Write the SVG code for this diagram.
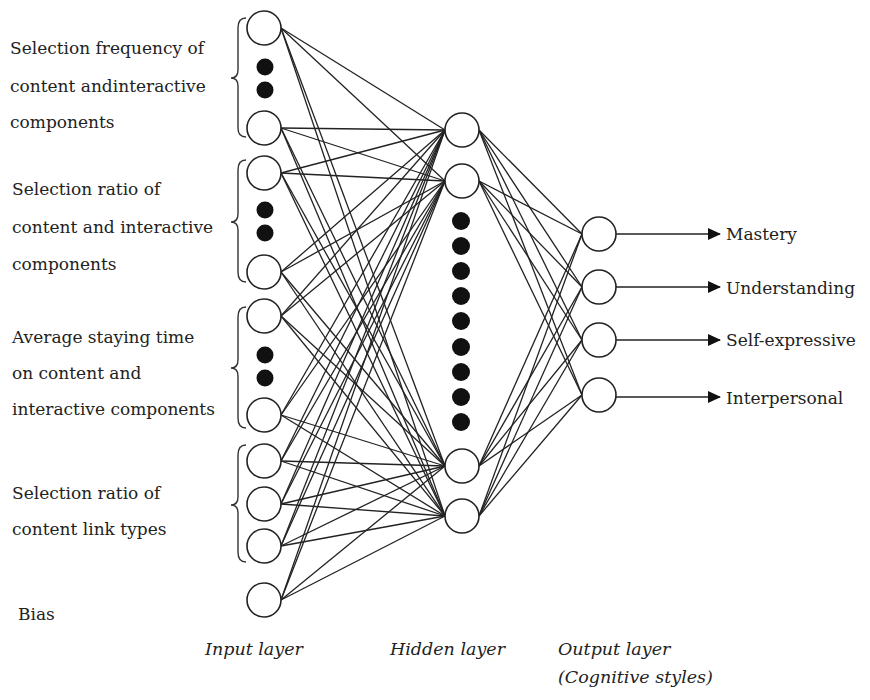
<svg xmlns="http://www.w3.org/2000/svg" width="870" height="700" viewBox="0 0 870 700">
<style>
.node{fill:#fff;stroke:#222;stroke-width:1.6}
.dot{fill:#111}
.lbl{font-family:'DejaVu Serif','Liberation Serif',serif;font-size:17px;fill:#222}
.it{font-family:'DejaVu Serif','Liberation Serif',serif;font-size:17.5px;font-style:italic;fill:#222}
.conn line{stroke:#222;stroke-width:1.3}
.brace{fill:none;stroke:#333;stroke-width:1.4}
.arr{stroke:#222;stroke-width:1.6}
</style>
<defs>
<marker id="ah" markerWidth="13" markerHeight="12" refX="12" refY="6" orient="auto" markerUnits="userSpaceOnUse">
<path d="M0,0 L13,6 L0,12 Z" fill="#111"/>
</marker>
</defs>
<rect width="870" height="700" fill="#fff"/>

<g id="connectors" class="conn">
<line x1="281" y1="28" x2="445" y2="130"/><line x1="281" y1="28" x2="445" y2="181"/><line x1="281" y1="28" x2="445" y2="466"/><line x1="281" y1="28" x2="445" y2="516"/>
<line x1="281" y1="128" x2="445" y2="130"/><line x1="281" y1="128" x2="445" y2="181"/><line x1="281" y1="128" x2="445" y2="466"/><line x1="281" y1="128" x2="445" y2="516"/>
<line x1="281" y1="173" x2="445" y2="130"/><line x1="281" y1="173" x2="445" y2="181"/><line x1="281" y1="173" x2="445" y2="466"/><line x1="281" y1="173" x2="445" y2="516"/>
<line x1="281" y1="272" x2="445" y2="130"/><line x1="281" y1="272" x2="445" y2="181"/><line x1="281" y1="272" x2="445" y2="466"/><line x1="281" y1="272" x2="445" y2="516"/>
<line x1="281" y1="316" x2="445" y2="130"/><line x1="281" y1="316" x2="445" y2="181"/><line x1="281" y1="316" x2="445" y2="466"/><line x1="281" y1="316" x2="445" y2="516"/>
<line x1="281" y1="415" x2="445" y2="130"/><line x1="281" y1="415" x2="445" y2="181"/><line x1="281" y1="415" x2="445" y2="466"/><line x1="281" y1="415" x2="445" y2="516"/>
<line x1="281" y1="461" x2="445" y2="130"/><line x1="281" y1="461" x2="445" y2="181"/><line x1="281" y1="461" x2="445" y2="466"/><line x1="281" y1="461" x2="445" y2="516"/>
<line x1="281" y1="504" x2="445" y2="130"/><line x1="281" y1="504" x2="445" y2="181"/><line x1="281" y1="504" x2="445" y2="466"/><line x1="281" y1="504" x2="445" y2="516"/>
<line x1="281" y1="546" x2="445" y2="130"/><line x1="281" y1="546" x2="445" y2="181"/><line x1="281" y1="546" x2="445" y2="466"/><line x1="281" y1="546" x2="445" y2="516"/>
<line x1="281" y1="600" x2="445" y2="130"/><line x1="281" y1="600" x2="445" y2="181"/><line x1="281" y1="600" x2="445" y2="466"/><line x1="281" y1="600" x2="445" y2="516"/>
<line x1="479" y1="130" x2="582" y2="234"/><line x1="479" y1="130" x2="582" y2="287"/><line x1="479" y1="130" x2="582" y2="340"/><line x1="479" y1="130" x2="582" y2="395"/>
<line x1="479" y1="181" x2="582" y2="234"/><line x1="479" y1="181" x2="582" y2="287"/><line x1="479" y1="181" x2="582" y2="340"/><line x1="479" y1="181" x2="582" y2="395"/>
<line x1="479" y1="466" x2="582" y2="234"/><line x1="479" y1="466" x2="582" y2="287"/><line x1="479" y1="466" x2="582" y2="340"/><line x1="479" y1="466" x2="582" y2="395"/>
<line x1="479" y1="516" x2="582" y2="234"/><line x1="479" y1="516" x2="582" y2="287"/><line x1="479" y1="516" x2="582" y2="340"/><line x1="479" y1="516" x2="582" y2="395"/>
<line class="arr" x1="616" y1="234" x2="720" y2="234" marker-end="url(#ah)"/>
<line class="arr" x1="616" y1="287" x2="720" y2="287" marker-end="url(#ah)"/>
<line class="arr" x1="616" y1="340" x2="720" y2="340" marker-end="url(#ah)"/>
<line class="arr" x1="616" y1="397" x2="720" y2="397" marker-end="url(#ah)"/>
</g>

<g id="input-group-1">
<path class="brace" d="M246,18 Q238,18 238,28 L238,70 Q238,78 231,78 Q238,78 238,86 L238,128 Q238,137 246,137"/>
<text class="lbl" x="10" y="54">Selection frequency of</text>
<text class="lbl" x="10" y="92">content andinteractive</text>
<text class="lbl" x="10" y="128">components</text>
</g>
<g id="input-group-2">
<path class="brace" d="M246,160 Q238,160 238,170 L238,214 Q238,222 231,222 Q238,222 238,230 L238,272 Q238,282 246,282"/>
<text class="lbl" x="12" y="195">Selection ratio of</text>
<text class="lbl" x="12" y="233">content and interactive</text>
<text class="lbl" x="12" y="270">components</text>
</g>
<g id="input-group-3">
<path class="brace" d="M246,307 Q238,307 238,317 L238,360 Q238,368 231,368 Q238,368 238,376 L238,418 Q238,428 246,428"/>
<text class="lbl" x="12" y="343">Average staying time</text>
<text class="lbl" x="12" y="379">on content and</text>
<text class="lbl" x="12" y="415">interactive components</text>
</g>
<g id="input-group-4">
<path class="brace" d="M246,445 Q238,445 238,455 L238,497 Q238,505 231,505 Q238,505 238,513 L238,552 Q238,562 246,562"/>
<text class="lbl" x="12" y="499">Selection ratio of</text>
<text class="lbl" x="12" y="535">content link types</text>
</g>
<g id="bias-label">
<text class="lbl" x="18" y="620">Bias</text>
</g>

<g id="input-nodes">
<circle class="node" cx="264" cy="28" r="17"/>
<circle class="dot" cx="265" cy="67" r="8.5"/>
<circle class="dot" cx="265" cy="90" r="8.5"/>
<circle class="node" cx="264" cy="128" r="17"/>
<circle class="node" cx="264" cy="173" r="17"/>
<circle class="dot" cx="265" cy="210" r="8.5"/>
<circle class="dot" cx="265" cy="233" r="8.5"/>
<circle class="node" cx="264" cy="272" r="17"/>
<circle class="node" cx="264" cy="316" r="17"/>
<circle class="dot" cx="265" cy="355" r="8.5"/>
<circle class="dot" cx="265" cy="378" r="8.5"/>
<circle class="node" cx="264" cy="415" r="17"/>
<circle class="node" cx="264" cy="461" r="17"/>
<circle class="node" cx="264" cy="504" r="17"/>
<circle class="node" cx="264" cy="546" r="17"/>
</g>
<g id="bias-node">
<circle class="node" cx="264" cy="600" r="17"/>
</g>

<g id="hidden-nodes">
<circle class="node" cx="462" cy="130" r="17"/>
<circle class="node" cx="462" cy="181" r="17"/>
<circle class="dot" cx="461" cy="221" r="9"/>
<circle class="dot" cx="461" cy="246" r="9"/>
<circle class="dot" cx="461" cy="271" r="9"/>
<circle class="dot" cx="461" cy="296" r="9"/>
<circle class="dot" cx="461" cy="321" r="9"/>
<circle class="dot" cx="461" cy="347" r="9"/>
<circle class="dot" cx="461" cy="372" r="9"/>
<circle class="dot" cx="461" cy="397" r="9"/>
<circle class="dot" cx="461" cy="422" r="9"/>
<circle class="node" cx="462" cy="466" r="17"/>
<circle class="node" cx="462" cy="516" r="17"/>
</g>

<g id="output-mastery">
<circle class="node" cx="599" cy="234" r="17"/>
<text class="lbl" x="726" y="240">Mastery</text>
</g>
<g id="output-understanding">
<circle class="node" cx="599" cy="287" r="17"/>
<text class="lbl" x="726" y="294">Understanding</text>
</g>
<g id="output-self-expressive">
<circle class="node" cx="599" cy="340" r="17"/>
<text class="lbl" x="726" y="346">Self-expressive</text>
</g>
<g id="output-interpersonal">
<circle class="node" cx="599" cy="395" r="17"/>
<text class="lbl" x="726" y="404">Interpersonal</text>
</g>

<g id="layer-labels">
<text class="it" x="205" y="655">Input layer</text>
<text class="it" x="390" y="655">Hidden layer</text>
<text class="it" x="558" y="655">Output layer</text>
<text class="it" x="558" y="683">(Cognitive styles)</text>
</g>
</svg>
